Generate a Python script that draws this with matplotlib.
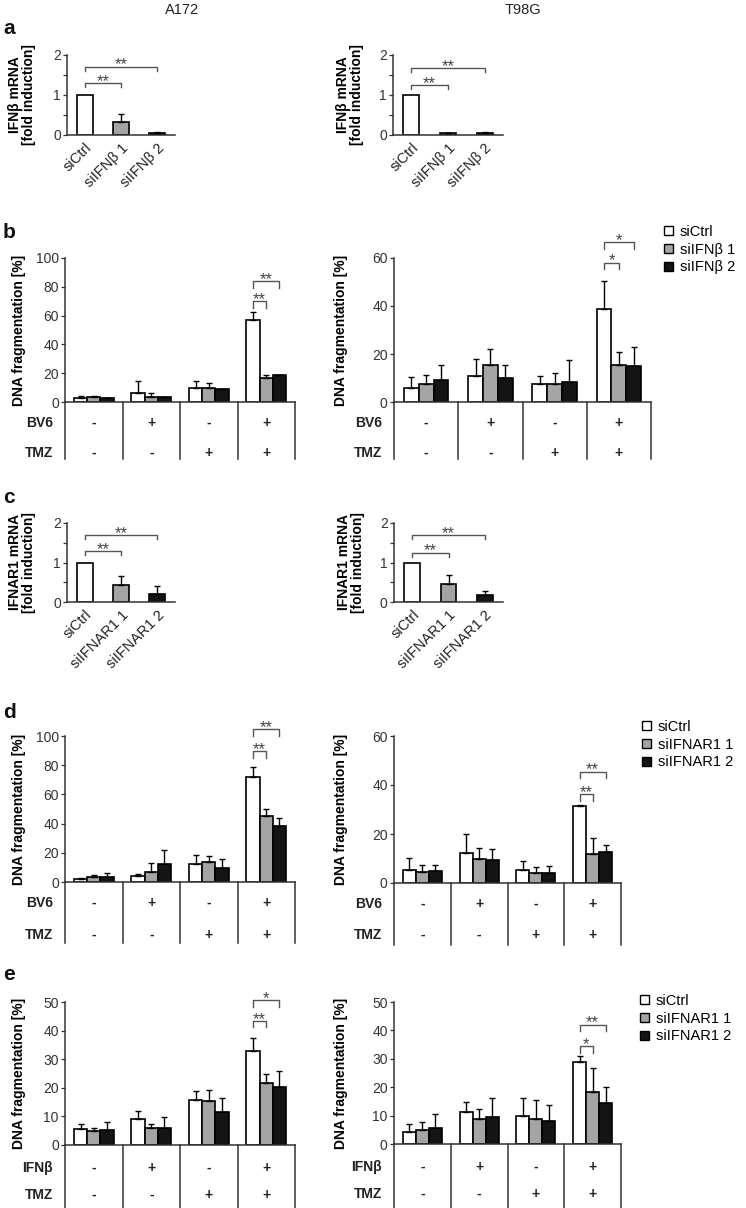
import matplotlib
matplotlib.use("Agg")
import matplotlib.pyplot as plt
from matplotlib.patches import Patch

plt.rcParams["font.family"] = ["Liberation Sans", "DejaVu Sans"]

W, H = 746, 1208
FILLS = ["white", "#a4a4a4", "#141414"]
INK = "#333333"

# ---- panel a: IFNβ mRNA (fold induction) ----
labels_ifnb = ["siCtrl", "siIFNβ 1", "siIFNβ 2"]
a_a172 = [1.0, 0.33, 0.04]
a_a172_err = [0.0, 0.19, 0.03]
a_t98g = [1.0, 0.05, 0.05]
a_t98g_err = [0.0, 0.01, 0.03]

# ---- panel c: IFNAR1 mRNA ----
labels_ifnar = ["siCtrl", "siIFNAR1 1", "siIFNAR1 2"]
c_a172 = [1.0, 0.44, 0.20]
c_a172_err = [0.0, 0.21, 0.21]
c_t98g = [1.0, 0.46, 0.17]
c_t98g_err = [0.0, 0.23, 0.12]

# ---- treatment table rows ----
row_1 = ["-", "+", "-", "+"]
row_2 = ["-", "-", "+", "+"]

# ---- panel b: DNA fragmentation, siIFNβ (rows = siCtrl, si1, si2; cols = groups) ----
b_a172 = [[3.0, 6.5, 9.7, 57.0], [3.3, 3.5, 10.0, 17.0], [2.5, 3.5, 9.0, 18.5]]
b_a172_err = [[1.5, 8.0, 4.6, 5.2], [0.8, 3.0, 3.3, 1.6], [0.3, 0.3, 0.3, 0.3]]
b_t98g = [[6.0, 10.7, 7.3, 38.6], [7.3, 15.3, 7.7, 15.3], [9.0, 9.8, 8.4, 14.9]]
b_t98g_err = [[4.5, 7.3, 3.4, 12.0], [3.9, 6.7, 4.2, 5.6], [6.3, 5.5, 9.0, 8.1]]

# ---- panel d: DNA fragmentation, siIFNAR1, BV6/TMZ ----
d_a172 = [[2.0, 4.0, 12.5, 72.0], [3.5, 7.0, 13.5, 45.0], [3.5, 12.0, 9.5, 38.5]]
d_a172_err = [[0.5, 1.5, 6.0, 7.0], [1.0, 6.0, 4.5, 5.0], [2.5, 10.0, 6.0, 5.5]]
d_t98g = [[5.5, 12.4, 5.5, 31.5], [4.5, 10.0, 4.2, 11.7], [4.9, 9.3, 4.2, 12.7]]
d_t98g_err = [[4.7, 7.8, 3.4, 0.3], [2.7, 4.3, 2.2, 6.7], [2.6, 4.5, 2.6, 2.7]]

# ---- panel e: DNA fragmentation, siIFNAR1, IFNβ/TMZ ----
e_a172 = [[5.5, 9.0, 15.7, 32.9], [4.9, 5.8, 15.3, 21.7], [5.2, 5.8, 11.6, 20.3]]
e_a172_err = [[1.7, 3.0, 3.3, 4.5], [1.1, 1.4, 3.9, 3.0], [2.9, 4.1, 4.7, 5.5]]
e_t98g = [[4.3, 11.4, 9.8, 28.9], [4.9, 8.7, 8.7, 18.4], [5.5, 9.6, 8.2, 14.3]]
e_t98g_err = [[2.6, 3.5, 6.5, 2.0], [2.7, 3.6, 6.8, 8.2], [5.0, 6.7, 5.5, 5.8]]

# significance brackets: (bar i, bar j, height, stars)
sig_a_a172 = [(0, 1, 1.29, "**"), (0, 2, 1.71, "**")]
sig_a_t98g = [(0, 1, 1.25, "**"), (0, 2, 1.67, "**")]
sig_c_a172 = [(0, 1, 1.28, "**"), (0, 2, 1.70, "**")]
sig_c_t98g = [(0, 1, 1.25, "**"), (0, 2, 1.69, "**")]
sig_b_a172 = [(0, 1, 70, "**"), (0, 2, 84, "**")]
sig_b_t98g = [(0, 1, 58, "*"), (0, 2, 66.5, "*")]
sig_d_a172 = [(0, 1, 89.5, "**"), (0, 2, 104.5, "**")]
sig_d_t98g = [(0, 1, 36.3, "**"), (0, 2, 45.4, "**")]
sig_e_a172 = [(0, 1, 43.4, "**"), (0, 2, 50.6, "*")]
sig_e_t98g = [(0, 1, 34.4, "*"), (0, 2, 42.0, "**")]

fig = plt.figure(figsize=(W / 100, H / 100), dpi=100)


def add_ax(x0, y0, x1, y1):
    return fig.add_axes([x0 / W, 1 - y1 / H, (x1 - x0) / W, (y1 - y0) / H])


def base_style(ax):
    for s in ("top", "right"):
        ax.spines[s].set_visible(False)
    for s in ("left", "bottom"):
        ax.spines[s].set_color(INK)
        ax.spines[s].set_linewidth(1.1)
    ax.tick_params(axis="y", length=3, width=0.9, color=INK, labelsize=10,
                   labelcolor=INK, pad=1.5)
    ax.tick_params(axis="x", length=0)


def bracket(ax, x1, x2, y, stars, drop):
    ax.plot([x1, x1, x2, x2], [y - drop, y, y, y - drop], color="#555555",
            lw=1.0, clip_on=False)
    # asterisks sit high in the glyph box, so anchor the baseline just under the bar
    ax.annotate(stars, xy=((x1 + x2) / 2, y), xytext=(0, -2),
                textcoords="offset points", ha="center", va="baseline",
                fontsize=12, color="#444444", annotation_clip=False)


def mrna_title(labels):
    return "IFNβ mRNA\n[fold induction]" if "β" in labels[1] else "IFNAR1 mRNA\n[fold induction]"


def mrna_panel(ax, vals, errs, labels, sig, ylab_px):
    xs = list(range(len(vals)))
    ax.bar(xs, vals, width=0.44, color=FILLS, edgecolor="black", lw=1.2, zorder=2)
    ax.errorbar(xs[1:], vals[1:], yerr=[[0] * 2, errs[1:]], fmt="none",
                ecolor="black", elinewidth=1.0, capsize=2.5, capthick=1.0, zorder=3)
    ax.set_xlim(-0.5, 2.5)
    ax.set_ylim(0, 2)
    ax.set_yticks([0, 0.5, 1, 1.5, 2], ["0", "", "1", "", "2"])
    ax.set_xticks(xs, labels, rotation=45, ha="right", rotation_mode="anchor",
                  fontsize=10.5, color="#222222")
    base_style(ax)
    ax.tick_params(axis="x", pad=4)
    for i, j, h, st in sig:
        bracket(ax, i, j, h, st, 0.1)
    ax.set_ylabel(mrna_title(labels), fontsize=10, fontweight="bold",
                  linespacing=1.0)
    ax.yaxis.set_label_coords(-ylab_px / ax.bbox.width, 0.5)


def treat_panel(ax, vals, errs, ymax, step, sig, row_names, offs, ylab_px, lab_px):
    width = 0.23
    for k in range(3):
        xs = [g + 0.5 + (k - 1) * width for g in range(4)]
        ax.bar(xs, vals[k], width=width, color=FILLS[k], edgecolor="black",
               lw=1.2, zorder=2)
        ax.errorbar(xs, vals[k], yerr=[[0] * 4, errs[k]], fmt="none",
                    ecolor="black", elinewidth=1.0, capsize=2.5, capthick=1.0,
                    zorder=3)
    ax.set_xlim(0, 4)
    ax.set_ylim(0, ymax)
    ax.set_yticks(range(0, ymax + 1, step))
    ax.set_xticks([])
    base_style(ax)
    h = ax.bbox.height
    w = ax.bbox.width
    trans = ax.get_xaxis_transform()
    r1, r2, line = offs
    for g in range(5):
        ax.plot([g, g], [0, -line / h], transform=trans, color=INK, lw=1.1,
                clip_on=False)
    for g in range(4):
        ax.text(g + 0.5, -r1 / h, row_1[g], transform=trans, ha="center",
                va="center", fontsize=10, fontweight="bold", color="#222222")
        ax.text(g + 0.5, -r2 / h, row_2[g], transform=trans, ha="center",
                va="center", fontsize=10, fontweight="bold", color="#222222")
    for name, r in zip(row_names, (r1, r2)):
        ax.text(-lab_px / w, -r / h, name, transform=ax.transAxes, ha="right",
                va="center", fontsize=10, fontweight="bold", color="#222222")
    drop = 0.045 * ymax
    for i, j, hh, st in sig:
        bracket(ax, 3.5 + (i - 1) * width, 3.5 + (j - 1) * width, hh, st, drop)
    ax.set_ylabel("DNA fragmentation [%]", fontsize=10, fontweight="bold")
    ax.yaxis.set_label_coords(-ylab_px / w, 0.5)


def legend(names, x, y):
    handles = [Patch(facecolor=f, edgecolor="black", lw=1.0) for f in FILLS]
    fig.legend(handles, names, loc="upper left", bbox_to_anchor=(x / W, 1 - y / H),
               frameon=False, fontsize=10.5, handlelength=0.6, handleheight=0.6,
               handletextpad=0.5, labelspacing=0.25, borderpad=0, borderaxespad=0)


# headers and panel letters
fig.text(182 / W, 1 - 10 / H, "A172", ha="center", va="center", fontsize=10.5, color="#222222")
fig.text(523 / W, 1 - 10 / H, "T98G", ha="center", va="center", fontsize=10.5, color="#222222")
for letter, yy in [("a", 28), ("b", 232), ("c", 497), ("d", 713), ("e", 975)]:
    fig.text(3 / W, 1 - yy / H, letter, ha="left", va="center", fontsize=15,
             fontweight="bold", color="#111111")

# a
mrna_panel(add_ax(67, 55, 175, 135), a_a172, a_a172_err, labels_ifnb, sig_a_a172, 31)
mrna_panel(add_ax(393, 55, 503, 135), a_t98g, a_t98g_err, labels_ifnb, sig_a_t98g, 29)

# b
treat_panel(add_ax(65, 258, 295, 402), b_a172, b_a172_err, 100, 20, sig_b_a172,
            ["BV6", "TMZ"], (21, 51, 57), 39, 12)
treat_panel(add_ax(394, 258, 651, 402), b_t98g, b_t98g_err, 60, 20, sig_b_t98g,
            ["BV6", "TMZ"], (21, 51, 57), 46, 12)
legend(labels_ifnb, 664, 225)

# c
mrna_panel(add_ax(67, 523, 175, 602), c_a172, c_a172_err, labels_ifnar, sig_c_a172, 31)
mrna_panel(add_ax(394, 523, 503, 602), c_t98g, c_t98g_err, labels_ifnar, sig_c_t98g, 29)

# d
treat_panel(add_ax(65, 736, 295, 882), d_a172, d_a172_err, 100, 20, sig_d_a172,
            ["BV6", "TMZ"], (21, 53, 61), 39, 12)
treat_panel(add_ax(394, 736, 621, 883), d_t98g, d_t98g_err, 60, 20, sig_d_t98g,
            ["BV6", "TMZ"], (21, 52, 62), 46, 12)
legend(labels_ifnar, 642, 720)

# e
treat_panel(add_ax(65, 1002, 295, 1145), e_a172, e_a172_err, 50, 10, sig_e_a172,
            ["IFNβ", "TMZ"], (23, 50, 63), 39, 12)
treat_panel(add_ax(394, 1002, 621, 1144), e_t98g, e_t98g_err, 50, 10, sig_e_t98g,
            ["IFNβ", "TMZ"], (23, 50, 64), 46, 12)
legend(labels_ifnar, 640, 994)

fig.savefig("out.png", dpi=100, facecolor="white")
